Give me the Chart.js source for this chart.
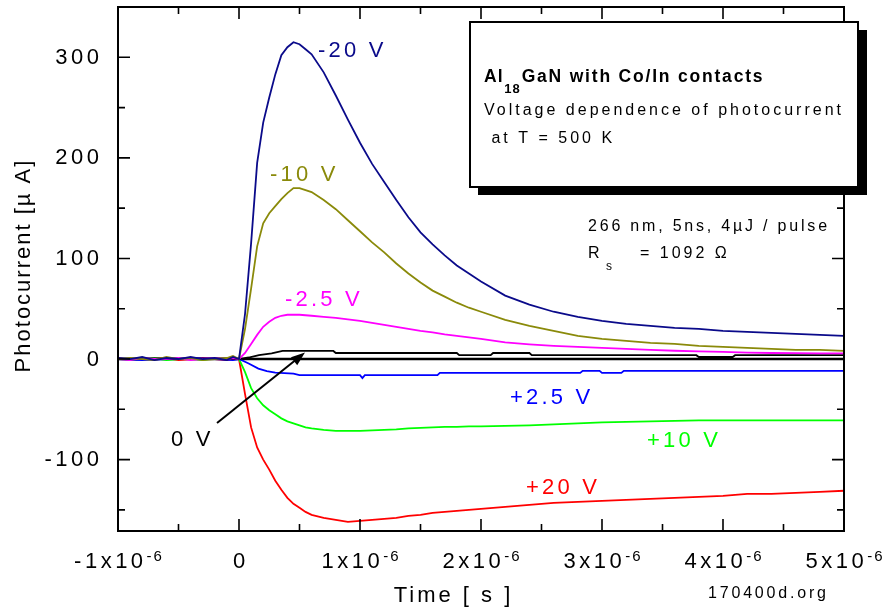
<!DOCTYPE html>
<html><head><meta charset="utf-8">
<script src="https://cdn.jsdelivr.net/npm/chart.js@4"></script>
<style>html,body{margin:0;padding:0;background:#fff;overflow:hidden}#wrap{width:886px;height:612px;position:relative}</style>
</head><body><div id="wrap"><canvas id="c"></canvas></div>
<script>
// ---- data (time in microseconds, current in µA) ----
const timeUs = [-1.0,-0.9,-0.8,-0.7,-0.6,-0.5,-0.4,-0.3,-0.2,-0.1,-0.05, 0, 0.05,0.1,0.15,0.2,0.25,0.3,0.35,0.4,0.45,0.5,0.55,0.6, 0.7,0.8,0.9,1.0,1.1,1.2,1.3,1.4,1.5,1.6,1.7,1.8,1.9,2.0, 2.2,2.4,2.6,2.8,3.0,3.2,3.4,3.6,3.8,4.0,4.2,4.4,4.6,4.8,5.0];
const neg20V = [1,0,2,-1,1,0,2,0,1,-1,2, 0, 45,115,195,235,260,283,302,310,315,313,308,303, 285,262,238,215,194,176,158,141,126,114,103,93,85,77, 63,54,47,42,38,35,33,31,30,28,27,26,25,24,23];
const neg10V = [0,1,0,-1,2,0,1,-1,0,1,3, 0, 30,70,112,135,145,152,159,165,170,170,168,166, 158,149,138,127,116,106,95,85,76,68,62,56,51,47, 39,33,28,23,20,18,16,15,13,12,11,10,9,9,8];
const neg2p5V = [0,-1,1,0,0,1,-1,0,1,0,1, 0, 6,15,24,32,37,41,43,44,44,44,43.5,43, 42,41,39.5,38,36,34,32,30,28,26.5,24.5,23,21.5,20, 16.5,14.5,13,12,11,10,9,8.2,7.5,7,6.3,6,5.8,5.6,5.6];
const pos10V = [0,-1,0,1,-1,0,0,-1,1,0,0, 0, -13,-29,-39,-46,-51,-55,-59,-62,-64,-66,-68,-69, -70.5,-71.5,-71.5,-71.5,-71,-70.5,-70,-69,-68.5,-68,-67.5,-67.5,-67,-67, -66.5,-66,-65,-64,-63,-62.5,-62,-61.5,-61,-61,-61,-61,-61,-61,-61];
const pos20V = [1,-1,0,0,1,-1,0,1,0,-1,0, 0, -35,-68,-88,-100,-110,-121,-130,-138,-144,-148,-152,-155, -158,-160,-162,-161,-160,-159,-158,-156,-155,-153,-152,-151,-150,-149, -147,-145,-143,-142,-141,-140,-139,-138,-137,-136,-134,-134,-133,-132,-131];
const zeroVTime = [-1.0,-0.7,-0.4,-0.1,0,0.08,0.165,0.27,0.36,0.78,0.8,1.8,1.82,2.08,2.1,2.4,2.42,3.78,3.8,4.08,4.1,5.0];
const zeroV = [0,0.5,0,0.5,0,1.5,3.8,5.5,8,8,6,6,3.8,3.8,6,6,3.8,3.8,2,2,3.8,3.8];
const pos2p5Time = [-1.0,-0.8,-0.6,-0.4,-0.2,-0.05,0,0.08,0.16,0.23,0.3,0.45,0.5,1.0,1.02,1.04,1.64,1.66,2.82,2.84,2.98,3.0,3.16,3.18,5.0];
const pos2p5V = [0,-1,0,1,0,-1,0,-4.5,-9.5,-12,-13.5,-14.5,-16,-16,-19,-16,-16,-13.8,-13.8,-11.8,-11.8,-13.8,-13.8,-11.8,-11.8];

const seriesLabels = ["-20 V","-10 V","-2.5 V","0 V","+2.5 V","+10 V","+20 V"];
const seriesColors = ["#0a0a8a","#8a8a0a","#ff00ff","#000000","#0000ff","#00ff00","#ff0000"];
const xTickValues = [-1,0,1,2,3,4,5];
const xTickExponent = "-6";
const yTickValues = [-100,0,100,200,300];
const xTitle = "Time [ s ]";
const yTitle = "Photocurrent [\u00b5 A]";
const boxTitle = ["Al","18","GaN with Co/In contacts"];
const boxLines = ["Voltage dependence of photocurrent"," at T = 500 K"];
const conditionLine = "266 nm, 5ns, 4\u00b5J / pulse";
const resistanceLine = ["R","s","= 1092 \u03a9"];
const credit = "170400d.org";

function pts(xs, ys){ return xs.map((x,i)=>({x:x, y:ys[i]})); }

const FAM = '"Liberation Sans", Arial, Helvetica, sans-serif';
function txt(ctx, s, x, y, size, color, spacing, align, bold){
  ctx.save();
  ctx.font = (bold?'bold ':'') + size + 'px ' + FAM;
  ctx.fillStyle = color;
  ctx.letterSpacing = spacing + 'px';
  ctx.textAlign = 'left';
  ctx.textBaseline = 'alphabetic';
  const w = ctx.measureText(s).width - spacing;
  const x0 = align === 'center' ? x - w/2 : (align === 'right' ? x - w : x);
  ctx.fillText(s, x0, y);
  ctx.restore();
  return w;
}
function measure(ctx, s, size, spacing, bold){
  ctx.save();
  ctx.font = (bold?'bold ':'') + size + 'px ' + FAM;
  ctx.letterSpacing = spacing + 'px';
  const w = ctx.measureText(s).width;
  ctx.restore();
  return w;
}

const decor = {
  id: 'decor',
  beforeDatasetsDraw(chart){
    const {ctx, chartArea:a, scales:{x, y}} = chart;
    const y0 = y.getPixelForValue(0);
    ctx.save();
    ctx.strokeStyle = '#000'; ctx.lineWidth = 2.5;
    ctx.beginPath(); ctx.moveTo(a.left, y0); ctx.lineTo(a.right, y0); ctx.stroke();
    ctx.restore();
  },
  afterDraw(chart){
    const {ctx, chartArea:a, scales:{x, y}} = chart;
    ctx.save();
    ctx.strokeStyle = '#000'; ctx.lineWidth = 2;
    ctx.strokeRect(a.left, a.top, a.right - a.left, a.bottom - a.top);
    ctx.lineWidth = 1.6;
    const xAll = [];
    for (let i = 0; i < xTickValues.length; i++){
      xAll.push([xTickValues[i], 12]);
      if (i < xTickValues.length - 1) xAll.push([(xTickValues[i] + xTickValues[i+1]) / 2, 7]);
    }
    xAll.forEach(([v, len]) => {
      const px = x.getPixelForValue(v);
      ctx.beginPath();
      ctx.moveTo(px, a.bottom); ctx.lineTo(px, a.bottom - len);
      ctx.moveTo(px, a.top); ctx.lineTo(px, a.top + len);
      ctx.stroke();
    });
    const yAll = [[yTickValues[0] - 50, 7]];
    for (let i = 0; i < yTickValues.length; i++){
      yAll.push([yTickValues[i], 12]);
      yAll.push([yTickValues[i] + 50, 7]);
    }
    yAll.forEach(([v, len]) => {
      const py = y.getPixelForValue(v);
      if (py < a.top + 1 || py > a.bottom - 1) return;
      ctx.beginPath();
      ctx.moveTo(a.left, py); ctx.lineTo(a.left + len, py);
      ctx.moveTo(a.right, py); ctx.lineTo(a.right - len, py);
      ctx.stroke();
    });
    ctx.restore();

    yTickValues.forEach(v => {
      txt(ctx, String(v), 99, y.getPixelForValue(v) + 6.5, 22, '#000', 3.5, 'right');
    });
    xTickValues.forEach(v => {
      const px = x.getPixelForValue(v);
      if (v === 0){ txt(ctx, '0', px, 568, 22, '#000', 3.5, 'center'); return; }
      const base = v + 'x10';
      const wb = measure(ctx, base, 22, 3.5);
      const ws = measure(ctx, xTickExponent, 15, 2) - 2;
      const x0 = px - (wb + ws)/2;
      txt(ctx, base, x0, 568, 22, '#000', 3.5, 'left');
      txt(ctx, xTickExponent, x0 + wb, 561, 15, '#000', 2, 'left');
    });
    txt(ctx, xTitle, 452, 602, 22, '#000', 3, 'center');
    ctx.save();
    ctx.translate(30, 266.5); ctx.rotate(-Math.PI/2);
    txt(ctx, yTitle, 0, 0, 22, '#000', 2, 'center');
    ctx.restore();
    txt(ctx, credit, 767, 598, 16, '#000', 2.8, 'center');

    ctx.save();
    ctx.fillStyle = '#000';
    ctx.fillRect(478, 30, 389, 165);
    ctx.fillStyle = '#fff';
    ctx.fillRect(470, 22, 388, 165);
    ctx.strokeStyle = '#000'; ctx.lineWidth = 2;
    ctx.strokeRect(470, 22, 388, 165);
    ctx.restore();
    let bx = 484;
    bx += txt(ctx, boxTitle[0], bx, 82, 17.5, '#000', 1.2, 'left', true) + 1.5;
    bx += txt(ctx, boxTitle[1], bx, 93, 13, '#000', 1, 'left', true) + 2;
    txt(ctx, boxTitle[2], bx, 82, 17.5, '#000', 1.8, 'left', true);
    txt(ctx, boxLines[0], 484, 114.5, 16, '#000', 3, 'left');
    txt(ctx, boxLines[1], 484, 143, 16, '#000', 3, 'left');

    txt(ctx, conditionLine, 588, 231, 16, '#000', 2.8, 'left');
    txt(ctx, resistanceLine[0], 588, 258, 16, '#000', 3, 'left');
    txt(ctx, resistanceLine[1], 606, 270, 12, '#000', 1, 'left');
    txt(ctx, resistanceLine[2], 640, 258, 16, '#000', 3, 'left');

    const lbl = [[318,57],[270,181],[285,306],[171,446],[510,404],[647,447],[526,494]];
    seriesLabels.forEach((s, i) => {
      txt(ctx, s, lbl[i][0], lbl[i][1], 22, seriesColors[i], 3.2, 'left');
    });
    ctx.save();
    const ax0 = 217, ay0 = 423, ax1 = 305, ay1 = 352.5;
    const ang = Math.atan2(ay1 - ay0, ax1 - ax0);
    ctx.strokeStyle = '#000'; ctx.fillStyle = '#000'; ctx.lineWidth = 2;
    ctx.beginPath(); ctx.moveTo(ax0, ay0);
    ctx.lineTo(ax1 - 10*Math.cos(ang), ay1 - 10*Math.sin(ang)); ctx.stroke();
    ctx.beginPath();
    ctx.moveTo(ax1, ay1);
    ctx.lineTo(ax1 - 14*Math.cos(ang) + 5*Math.sin(ang), ay1 - 14*Math.sin(ang) - 5*Math.cos(ang));
    ctx.lineTo(ax1 - 14*Math.cos(ang) - 5*Math.sin(ang), ay1 - 14*Math.sin(ang) + 5*Math.cos(ang));
    ctx.closePath(); ctx.fill();
    ctx.restore();
  }
};

const seriesData = [
  pts(timeUs, neg20V), pts(timeUs, neg10V), pts(timeUs, neg2p5V),
  pts(zeroVTime, zeroV), pts(pos2p5Time, pos2p5V), pts(timeUs, pos10V), pts(timeUs, pos20V)
];

new Chart(document.getElementById('c'), {
  type: 'line',
  data: {
    datasets: seriesData.map((d, i) => ({
      label: seriesLabels[i], data: d, borderColor: seriesColors[i],
      borderWidth: 1.8, pointRadius: 0, tension: 0, fill: false
    }))
  },
  options: {
    responsive: true, maintainAspectRatio: false, animation: false,
    layout: { padding: { top: 7, right: 42, left: 0, bottom: 0 } },
    plugins: { legend: { display: false }, tooltip: { enabled: false } },
    scales: {
      x: { type: 'linear', min: -1, max: 5,
           ticks: { display: false }, grid: { display: false }, border: { display: false },
           afterFit: s => { s.height = 81; } },
      y: { type: 'linear', min: -171, max: 350,
           ticks: { display: false }, grid: { display: false }, border: { display: false },
           afterFit: s => { s.width = 118; } }
    }
  },
  plugins: [decor]
});
</script>
</body></html>
